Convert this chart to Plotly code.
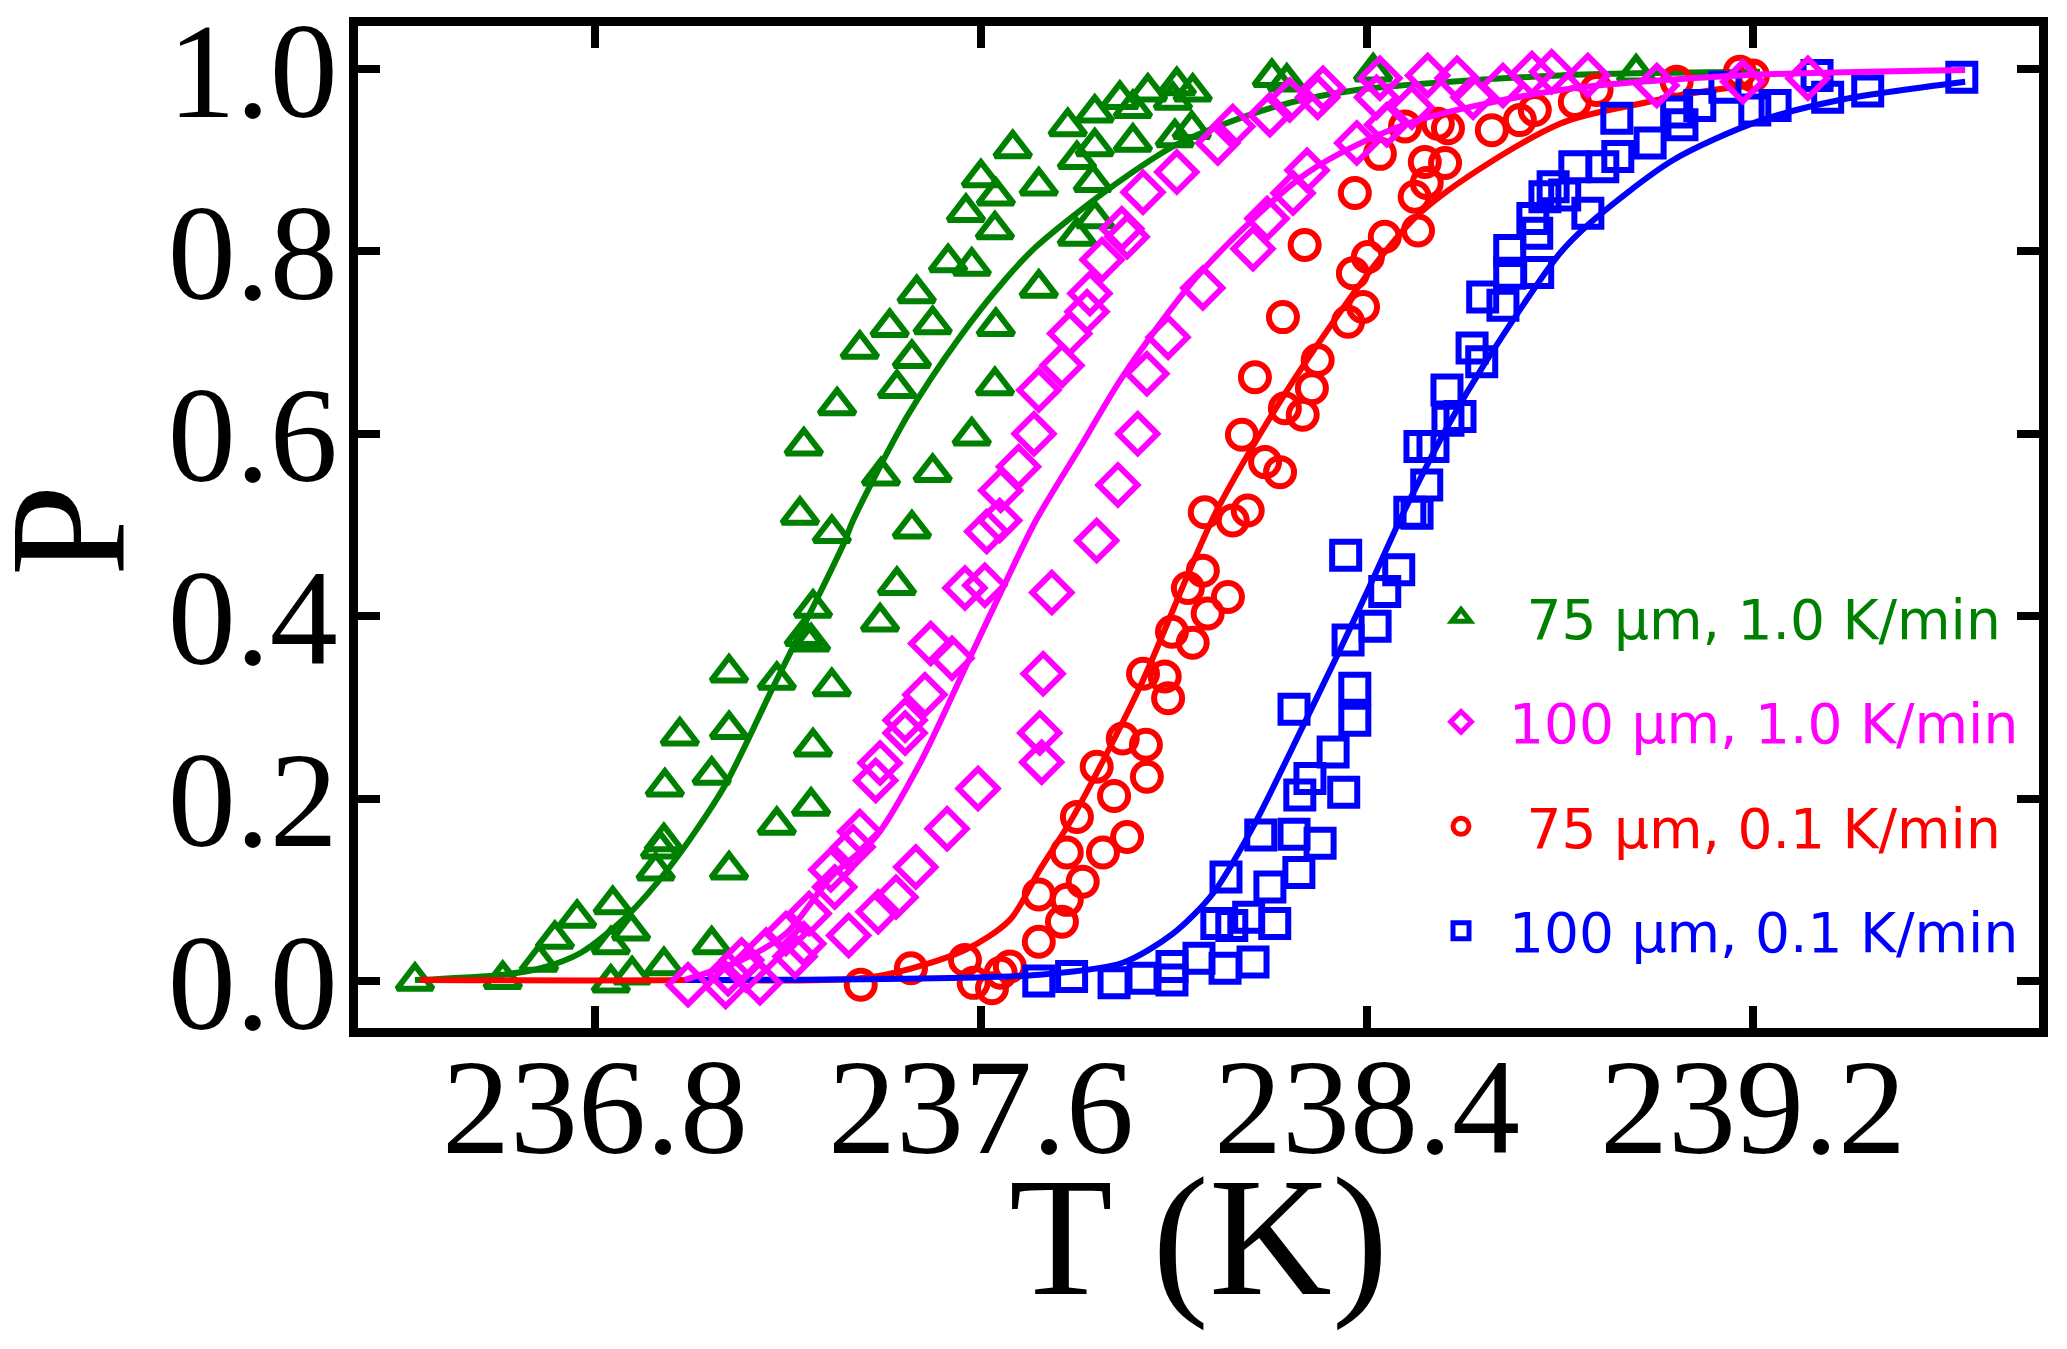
import plotly.graph_objects as go

# 75 um, 1.0 K/min (green triangles)
t_75_fast = [237.666, 237.600, 237.720, 237.631, 237.569, 237.629, 237.532, 237.581, 237.720, 237.467,
             237.411, 237.500, 237.631, 237.349, 237.457, 237.426, 237.629, 237.302, 237.233, 237.581,
             237.393, 237.500, 237.225, 237.291, 237.457, 237.426, 237.252, 237.391, 237.233, 237.248,
             237.078, 237.177, 237.291, 236.976, 237.078, 237.252, 236.945, 237.042, 237.177, 237.248,
             236.943, 236.935, 236.926, 237.078, 236.837, 236.763, 236.717, 236.875, 236.833, 237.042,
             236.684, 236.943, 236.427, 236.609, 236.833, 236.877,
             237.780, 237.836, 237.836, 237.799, 237.832, 237.888, 237.915, 237.946, 237.915, 238.006,
             237.998, 238.039, 238.002, 238.037, 237.836, 237.799, 238.203, 238.234, 238.413, 238.958]
p_75_fast = [0.913, 0.881, 0.872, 0.861, 0.843, 0.824, 0.788, 0.784, 0.760, 0.754,
             0.717, 0.720, 0.718, 0.693, 0.683, 0.650, 0.653, 0.631, 0.587, 0.598,
             0.554, 0.558, 0.511, 0.491, 0.496, 0.434, 0.409, 0.394, 0.378, 0.372,
             0.338, 0.330, 0.323, 0.269, 0.276, 0.257, 0.213, 0.226, 0.171, 0.192,
             0.153, 0.145, 0.121, 0.122, 0.084, 0.069, 0.046, 0.055, 0.040, 0.040,
             0.021, 0.017, 0.000, 0.002, -0.002, 0.007,
             0.937, 0.952, 0.915, 0.901, 0.876, 0.967, 0.957, 0.975, 0.920, 0.982,
             0.966, 0.975, 0.925, 0.934, 0.836, 0.817, 0.991, 0.986, 0.997, 0.996]

# 100 um, 1.0 K/min (magenta diamonds)
t_100_fast = [237.639, 237.612, 237.567, 237.608, 237.496, 237.540, 237.484, 237.443, 237.443, 237.391,
              237.382, 237.594, 237.349, 237.335, 237.530, 237.289, 237.297, 237.465, 237.424, 237.387,
              237.244, 237.196, 237.326, 237.233, 237.215, 237.155, 237.104, 237.076, 237.142, 237.071,
              236.993, 237.113,
              237.678, 237.641, 237.710, 237.720, 237.768, 237.784, 237.820, 237.826, 237.851, 237.892,
              237.903, 237.936, 238.006, 238.091, 238.122, 238.199, 238.240, 238.298, 238.309, 238.427,
              238.420, 238.493, 238.526, 238.587, 238.620, 238.682, 238.742, 238.441, 238.379, 238.276,
              238.247, 238.193, 238.164, 238.060, 237.988, 237.944, 237.925, 237.884,
              237.840, 237.747, 237.729, 237.722, 237.726,
              238.783, 238.858, 239.001, 239.179, 239.314]
p_100_fast = [0.505, 0.493, 0.431, 0.434, 0.370, 0.354, 0.314, 0.286, 0.272, 0.239,
              0.220, 0.211, 0.164, 0.147, 0.167, 0.122, 0.103, 0.125, 0.092, 0.076,
              0.074, 0.052, 0.050, 0.041, 0.027, 0.034, 0.023, 0.008, -0.002, -0.006,
              -0.004, 0.012,
              0.564, 0.538, 0.600, 0.648, 0.675, 0.710, 0.734, 0.754, 0.791, 0.825,
              0.816, 0.865, 0.887, 0.919, 0.937, 0.950, 0.966, 0.969, 0.979, 0.990,
              0.969, 0.958, 0.993, 0.990, 0.969, 0.982, 0.995, 0.939, 0.919, 0.889,
              0.864, 0.836, 0.803, 0.760, 0.706, 0.666, 0.600, 0.544,
              0.483, 0.426, 0.337, 0.272, 0.240,
              0.997, 0.993, 0.982, 0.986, 0.990]

# 75 um, 0.1 K/min (red circles)
t_75_slow = [237.351, 237.455, 237.567, 237.585, 237.623, 237.641, 237.660, 237.720, 237.720,
             238.060, 238.029, 238.112, 238.070, 237.996, 238.039, 237.936, 237.981, 237.988, 237.894,
             237.942, 237.840, 237.944, 237.876, 237.799, 237.903, 237.778, 237.853, 237.811, 237.778,
             237.768,
             238.064, 238.153, 238.122, 238.220, 238.189, 238.141, 238.267, 238.230, 238.168, 238.286,
             238.298, 238.226, 238.361, 238.392, 238.271, 238.371, 238.402, 238.437, 238.506, 238.375,
             238.499, 238.524, 238.520, 238.562, 238.427, 238.479, 238.547, 238.568, 238.659, 238.717,
             238.748, 238.831, 238.876, 239.042, 239.173, 239.200]
p_75_slow = [-0.004, 0.014, 0.023, -0.002, -0.008, 0.009, 0.016, 0.043, 0.095,
             0.450, 0.431, 0.421, 0.403, 0.383, 0.371, 0.337, 0.334, 0.310, 0.266,
             0.259, 0.235, 0.224, 0.203, 0.180, 0.158, 0.141, 0.141, 0.109, 0.089,
             0.065,
             0.514, 0.516, 0.505, 0.558, 0.569, 0.599, 0.621, 0.628, 0.662, 0.650,
             0.681, 0.728, 0.723, 0.739, 0.807, 0.776, 0.794, 0.816, 0.823, 0.864,
             0.860, 0.875, 0.898, 0.897, 0.907, 0.937, 0.940, 0.935, 0.933, 0.944,
             0.955, 0.964, 0.977, 0.986, 0.997, 0.993]

# 100 um, 0.1 K/min (blue squares)
t_100_slow = [237.720, 237.788, 237.876, 237.936, 237.996, 237.996, 238.052, 238.106, 238.164, 238.089,
              238.120, 238.155, 238.209, 238.108, 238.199, 238.259, 238.180, 238.249, 238.303, 238.261,
              238.282, 238.352, 238.330, 238.249, 238.375, 238.375, 238.361, 238.417, 238.437, 238.466,
              238.356, 238.489, 238.504,
              238.524, 238.510, 238.537, 238.568, 238.593, 238.566, 238.638, 238.618, 238.682, 238.640,
              238.696, 238.754, 238.696, 238.752, 238.744, 238.786,
              238.769, 238.810, 238.858, 238.831, 238.889, 238.920, 238.918, 238.987, 239.053, 239.042,
              239.090, 239.142, 239.204, 239.246, 239.333, 239.355, 239.438, 239.633]
p_100_slow = [0.000, 0.005, -0.002, 0.003, 0.001, 0.016, 0.025, 0.014, 0.021, 0.063,
              0.061, 0.070, 0.063, 0.114, 0.103, 0.119, 0.160, 0.161, 0.151, 0.204,
              0.222, 0.207, 0.251, 0.298, 0.286, 0.321, 0.374, 0.389, 0.427, 0.451,
              0.467, 0.514, 0.513,
              0.544, 0.586, 0.586, 0.615, 0.619, 0.648, 0.679, 0.694, 0.741, 0.750,
              0.776, 0.777, 0.801, 0.820, 0.836, 0.871,
              0.860, 0.862, 0.842, 0.893, 0.893, 0.904, 0.946, 0.919, 0.939, 0.953,
              0.960, 0.980, 0.955, 0.960, 0.993, 0.969, 0.976, 0.991]

# fitted curves
fit_t_75_fast = [236.427, 236.609, 236.688, 236.771, 236.864, 236.955, 237.068, 237.169, 237.252, 237.316,
                 237.335, 237.447, 237.556, 237.650, 237.714, 237.861, 238.012, 238.205, 238.379, 238.800, 239.215]
fit_p_75_fast = [0.001, 0.007, 0.014, 0.031, 0.070, 0.125, 0.213, 0.322, 0.410, 0.480,
                 0.505, 0.619, 0.706, 0.769, 0.805, 0.867, 0.919, 0.958, 0.977, 0.993, 0.997]

fit_t_100_fast = [236.985, 237.104, 237.196, 237.289, 237.382, 237.474, 237.575, 237.650, 237.714, 237.811,
                  237.894, 238.054, 238.276, 238.483, 238.800, 239.173, 239.640]
fit_p_100_fast = [0.001, 0.023, 0.052, 0.114, 0.158, 0.239, 0.352, 0.436, 0.505, 0.590,
                  0.663, 0.776, 0.886, 0.940, 0.977, 0.993, 0.999]

fit_t_75_slow = [236.437, 236.985, 237.382, 237.567, 237.660, 237.722, 237.791, 237.930, 238.089, 238.276,
                 238.510, 238.800, 238.966, 239.117, 239.200]
fit_p_75_slow = [0.001, 0.001, 0.005, 0.034, 0.067, 0.122, 0.180, 0.323, 0.516, 0.681,
                 0.842, 0.940, 0.962, 0.977, 0.982]

fit_t_100_slow = [236.985, 237.722, 237.894, 237.998, 238.081, 238.164, 238.267, 238.344, 238.412, 238.468,
                  238.566, 238.649, 238.800, 238.862, 239.034, 239.208, 239.380, 239.640]
fit_p_100_slow = [0.001, 0.007, 0.020, 0.052, 0.096, 0.169, 0.279, 0.363, 0.440, 0.505,
                  0.607, 0.681, 0.798, 0.831, 0.900, 0.942, 0.966, 0.986]

x_ticks = [236.8, 237.6, 238.4, 239.2]
y_ticks = [0.0, 0.2, 0.4, 0.6, 0.8, 1.0]

series = [
    ('\u00a075 µm, 1.0 K/min', '#008000', 'triangle-up-open', 31,
     t_75_fast, p_75_fast, fit_t_75_fast, fit_p_75_fast),
    ('\u00a075 µm, 0.1 K/min', '#ff0000', 'circle-open', 28,
     t_75_slow, p_75_slow, fit_t_75_slow, fit_p_75_slow),
    ('100 µm, 0.1 K/min', '#0000ff', 'square-open', 27,
     t_100_slow, p_100_slow, fit_t_100_slow, fit_p_100_slow),
    ('100 µm, 1.0 K/min', '#ff00ff', 'diamond-open', 30,
     t_100_fast, p_100_fast, fit_t_100_fast, fit_p_100_fast),
]
legend_rank = {'#008000': 1, '#ff00ff': 2, '#ff0000': 3, '#0000ff': 4}

fig = go.Figure()
for name, color, symbol, size, tx, py, ft, fp in series:
    fig.add_trace(go.Scatter(
        x=tx, y=py, mode='markers',
        name='<span style="color:%s">%s</span>' % (color, name),
        legendgroup=name, legendrank=legend_rank[color],
        marker=dict(symbol=symbol, size=size, color=color, line=dict(width=6, color=color)),
    ))
    fig.add_trace(go.Scatter(
        x=ft, y=fp, mode='lines', line=dict(color=color, width=6, shape='spline', smoothing=0.8),
        legendgroup=name, showlegend=False, hoverinfo='skip',
    ))

axis_style = dict(
    showline=True, linewidth=9, linecolor='black', mirror='ticks',
    ticks='inside', ticklen=22, tickwidth=8, tickcolor='black',
    showgrid=False, zeroline=False, ticklabeloverflow='allow', automargin=False,
    tickfont=dict(family='Liberation Serif', size=136, color='black'),
)

fig.update_xaxes(range=[236.309, 239.793], tickvals=x_ticks, ticklabelstandoff=-47,
                 ticktext=['%.1f' % v for v in x_ticks], **axis_style)
fig.update_yaxes(range=[-0.0515, 1.0472], tickvals=y_ticks, ticklabelstandoff=-16,
                 ticktext=['%.1f' % v for v in y_ticks], **axis_style)

fig.update_layout(
    width=2067, height=1349,
    margin=dict(l=358, r=28, t=26, b=321, autoexpand=False),
    plot_bgcolor='white', paper_bgcolor='white',
    showlegend=True,
    legend=dict(
        x=0.6276, y=0.452, xanchor='left', yanchor='top',
        font=dict(family='DejaVu Sans', size=55),
        itemwidth=86, tracegroupgap=30, traceorder='grouped',
        bgcolor='rgba(0,0,0,0)',
    ),
    annotations=[
        dict(text='T (K)', x=0.5, y=-0.113, xref='paper', yref='paper',
             xanchor='center', yanchor='top', showarrow=False,
             font=dict(family='Liberation Serif', size=170, color='black')),
        dict(text='P', x=-0.1723, y=0.497, xref='paper', yref='paper',
             xanchor='center', yanchor='middle', textangle=-90, showarrow=False,
             font=dict(family='Liberation Serif', size=165, color='black')),
    ],
)

fig.write_html("out.html", config={'displayModeBar': False},
               post_script="document.body.style.margin='0';document.body.style.overflow='hidden';")
